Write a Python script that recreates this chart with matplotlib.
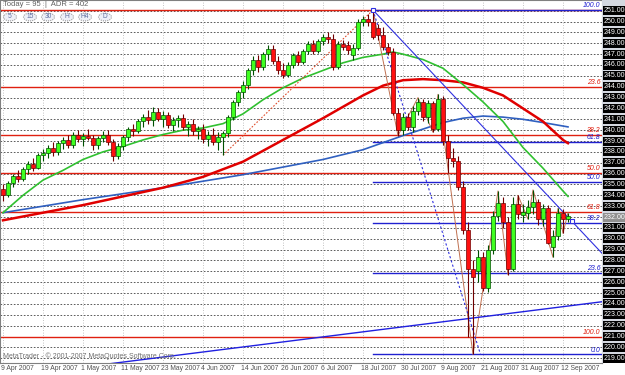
import matplotlib
matplotlib.use("Agg")
import matplotlib.pyplot as plt
from matplotlib.patches import Rectangle, Circle

# ---------------- data (GBPJPY daily, 9 Apr 2007 .. 13 Sep 2007) ----------------
opens = [234.6,234.0,235.1,235.8,235.5,236.4,236.9,236.5,237.7,237.9,238.4,238.0,238.8,239.1,238.6,239.6,
         239.2,239.5,239.3,238.6,239.3,239.6,238.9,237.6,238.5,239.4,240.1,239.9,240.8,241.2,240.9,241.7,
         241.0,241.4,240.5,240.9,241.1,240.3,240.6,239.9,240.1,239.2,239.6,238.9,239.4,239.7,241.2,242.6,
         243.5,244.2,245.5,246.5,245.8,247.0,247.5,246.4,245.5,245.1,246.0,246.9,246.3,247.3,247.9,247.3,
         248.2,248.6,248.4,245.8,247.9,247.8,246.9,247.6,250.0,250.2,250.0,249.4,248.8,247.7,247.2,241.6,
         240.0,241.2,240.3,241.8,242.6,241.2,242.5,240.1,242.9,239.0,237.4,237.2,234.8,230.8,227.2,227.0,
         228.3,225.5,229.0,232.1,233.3,231.5,227.2,233.2,232.2,232.4,232.9,233.4,231.8,232.8,229.2,230.3,
         232.4,231.8]
highs = [235.0,235.3,236.0,236.3,236.6,237.2,237.4,237.9,238.3,238.6,238.9,239.0,239.4,239.6,239.8,240.0,
         239.7,240.1,239.6,239.5,239.9,240.0,239.2,238.8,239.6,240.3,240.6,241.0,241.5,241.9,242.1,242.0,
         241.8,241.7,241.2,241.4,241.5,240.8,241.0,240.4,240.6,239.9,240.2,239.8,239.9,241.4,242.8,243.7,
         244.5,245.7,246.8,246.9,247.2,247.85,247.8,246.8,246.2,246.3,247.1,247.3,247.5,248.2,248.3,248.4,
         248.9,249.0,248.9,248.2,248.3,248.2,247.9,250.2,250.5,250.7,251.06,249.8,249.5,248.0,247.6,242.0,
         241.6,241.6,242.2,243.0,242.9,242.8,242.7,243.3,243.1,239.6,238.4,237.6,235.3,231.5,228.0,229.0,
         228.8,229.4,232.6,234.4,233.8,232.0,233.8,234.0,233.2,233.6,234.5,233.7,233.2,233.1,230.8,232.8,
         232.7,232.4]
lows  = [233.5,233.8,234.8,235.2,235.3,236.0,236.2,236.4,237.2,237.4,237.6,237.7,238.3,238.4,238.4,238.9,
         238.5,239.1,238.2,238.3,238.9,238.6,237.2,237.3,238.2,239.0,239.5,239.7,240.3,240.6,240.4,240.8,
         240.3,240.2,239.9,240.3,240.0,239.5,239.6,239.2,238.8,238.5,238.6,238.2,237.7,239.4,240.9,242.2,
         243.0,243.8,245.1,245.4,245.5,246.5,246.1,245.2,244.8,244.9,245.7,246.0,246.1,247.0,247.0,247.1,
         247.8,248.0,245.5,245.6,247.4,247.0,246.5,247.4,249.6,249.6,248.4,248.3,247.4,246.9,241.4,239.5,
         239.6,240.0,239.8,241.4,240.8,240.7,239.8,239.9,238.6,236.1,236.6,234.5,230.4,221.0,219.35,226.0,
         225.2,225.1,228.6,231.6,231.0,226.7,227.0,231.8,231.5,231.8,232.3,231.3,231.2,229.5,228.3,229.9,
         230.5,231.5]
closes = [234.0,235.1,235.8,235.5,236.4,236.9,236.5,237.7,237.9,238.4,238.0,238.8,239.1,238.6,239.6,239.2,
          239.5,239.3,238.6,239.3,239.6,238.9,237.6,238.5,239.4,240.1,239.9,240.8,241.2,240.9,241.7,241.0,
          241.4,240.5,240.9,241.1,240.3,240.6,239.9,240.1,239.2,239.6,238.9,239.4,239.7,241.2,242.6,243.5,
          244.2,245.5,246.5,245.8,247.0,247.5,246.4,245.5,245.1,246.0,246.9,246.3,247.3,247.9,247.3,248.2,
          248.6,248.4,245.8,247.9,247.7,247.4,247.6,250.0,250.2,250.0,248.6,248.8,247.7,247.2,241.6,240.0,
          241.2,240.3,241.8,242.6,241.2,242.5,240.1,242.9,239.0,237.4,237.2,234.8,230.8,227.2,226.5,228.3,
          225.5,229.0,232.1,233.3,231.5,227.2,233.2,232.3,232.5,232.9,233.4,231.8,232.8,229.6,230.3,232.4,
          231.8,232.1]

tick_idx = [0, 8, 16, 24, 32, 40, 48, 56, 64, 72, 80, 88, 96, 104, 112]
tick_labels = ["9 Apr 2007", "19 Apr 2007", "1 May 2007", "11 May 2007", "23 May 2007", "4 Jun 2007",
               "14 Jun 2007", "26 Jun 2007", "6 Jul 2007", "18 Jul 2007", "30 Jul 2007", "9 Aug 2007",
               "21 Aug 2007", "31 Aug 2007", "12 Sep 2007"]

ma_idx   = [0, 4, 8, 12, 16, 20, 24, 28, 32, 36, 40, 44, 48, 52, 56, 60, 64, 68, 72, 76, 78, 80, 84, 88,
            92, 96, 100, 104, 108, 112, 113]
ma_green = [232.4,234.0,235.4,236.3,237.3,238.0,238.5,239.1,239.6,240.0,240.2,240.6,241.5,242.8,243.9,
            244.8,245.5,246.2,246.7,247.0,247.2,247.0,246.5,245.7,244.2,242.6,240.8,238.4,236.5,234.4,233.9]
ma_red_idx = [0, 8, 16, 24, 32, 40, 48, 56, 64, 72, 76, 80, 84, 88, 92, 96, 100, 104, 108, 112, 113]
ma_red   = [231.7,232.4,233.1,233.9,234.7,235.7,237.1,239.1,241.1,243.2,244.1,244.6,244.7,244.6,244.4,
            243.9,243.2,242.0,240.8,239.1,238.8]
ma_blue_idx = [0, 16, 32, 48, 64, 72, 80, 88, 92, 96, 100, 104, 108, 113]
ma_blue  = [232.4,233.6,234.7,235.9,237.3,238.2,239.5,240.7,241.1,241.3,241.2,241.0,240.7,240.3]

zz_idx   = [74, 79, 83, 86, 87, 94, 99, 101, 103, 105, 106, 110, 111, 112, 113]
zz_price = [251.06, 239.5, 243.0, 239.8, 243.3, 219.35, 234.4, 226.7, 234.0, 231.8, 234.5, 228.3, 232.8,
            230.5, 232.4]
zz_pre_idx = [44, 74]
zz_pre_price = [237.7, 251.06]

fib_levels = [0.0, 23.6, 38.2, 50.0, 61.8, 100.0]
fib_high = 251.06
red_fib_low = 221.0
blue_fib_low = 219.35
price_labels = list(range(219, 252))
current_price = 232.0

NARROW = ["Liberation Sans Narrow", "Liberation Sans", "DejaVu Sans"]

# ---------------- geometry helpers ----------------
W, H = 625, 375
PX_PER_UNIT = 10.86
def ypix(p):  # pixel from top
    return 10.7 + (251 - p) * PX_PER_UNIT

fig = plt.figure(figsize=(W / 100, H / 100), dpi=100)
fig.patch.set_facecolor("white")
ax_bottom_px = 363
ax = fig.add_axes([0, (H - ax_bottom_px) / H, 602 / W, ax_bottom_px / H])
ax.set_facecolor("white")
ax.set_xlim(-0.6, 119.8)
ax.set_ylim(251 - (ax_bottom_px - 10.7) / PX_PER_UNIT, 251 + 10.7 / PX_PER_UNIT)
ax.set_xticks([])
ax.set_yticks([])
for s in ax.spines.values():
    s.set_color("#808080")
    s.set_linewidth(0.8)

# grid
for p in price_labels:
    ax.axhline(p, color="#404040", lw=0.6, ls=(0, (2, 2)), zorder=1)
for t in tick_idx:
    ax.axvline(t, color="#b0b0b0", lw=0.6, ls=(0, (1, 2)), zorder=1)

# fib retracements
red_rng = fib_high - red_fib_low
for lv in fib_levels:
    p = fib_high - red_rng * lv / 100.0
    ax.axhline(p, color="#e02010", lw=1.0, zorder=2)
    if lv > 0:
        ax.text(119.5, p + 0.08, f"{lv:.1f}", color="#e02010", fontsize=5, style="italic",
                family=NARROW, ha="right", va="bottom", zorder=6)
blue_rng = fib_high - blue_fib_low
for lv in fib_levels:
    p = blue_fib_low + blue_rng * lv / 100.0
    ax.plot([74, 119.8], [p, p], color="#2020d0", lw=1.0, zorder=2)
    ax.text(119.5, p + 0.08, f"{lv:.1f}", color="#2020d0", fontsize=5, style="italic",
            family=NARROW, ha="right", va="bottom", zorder=6)

# moving averages
ax.plot(ma_blue_idx, ma_blue, color="#3060c0", lw=1.2, zorder=3)
ax.plot(ma_red_idx, ma_red, color="#e00000", lw=1.8, zorder=3)
ax.plot(ma_idx, ma_green, color="#30c030", lw=1.2, zorder=3)

# zigzag
ax.plot(zz_pre_idx, zz_pre_price, color="#e05030", lw=0.8, ls=(0, (1.5, 1.5)), zorder=3)
ax.plot(zz_idx, zz_price, color="#c07050", lw=0.7, zorder=3)

# trend lines
ax.plot([21.5, 119.8], [218.5, 224.2], color="#2020e0", lw=1.0, zorder=3)
ax.plot([74, 119.8], [fib_high, fib_high - 0.489 * 45.8], color="#3030e0", lw=0.8, zorder=3)
ax.plot([74, 95.5], [fib_high, blue_fib_low], color="#3030e0", lw=0.8, ls=(0, (2, 2)), zorder=3)
ax.plot([74], [fib_high], marker="s", ms=3, mfc="white", mec="#3030e0", mew=0.8, zorder=7)
ax.plot([113.8], [fib_high - 0.489 * 39.8], marker="s", ms=3, mfc="white", mec="#3030e0", mew=0.8, zorder=7)

# candles
for i, (o, h, l, c) in enumerate(zip(opens, highs, lows, closes)):
    bull = c >= o
    edge = "#005000" if bull else "#700000"
    face = "#40ff20" if bull else "#ff1010"
    ax.vlines(i, l, h, color=edge, lw=0.8, zorder=4)
    ax.add_patch(Rectangle((i - 0.32, min(o, c)), 0.64, max(abs(c - o), 0.06),
                           facecolor=face, edgecolor=edge, lw=0.5, zorder=5))

# ---------------- text elements ----------------
def fy(ypx):
    return 1 - ypx / H

fig.patches.append(Rectangle((602 / W, fy(363)), 23 / W, 363 / H, transform=fig.transFigure,
                             facecolor="#d4d8e0", edgecolor="none", zorder=0))

fig.text(3 / W, fy(5), "Today = 95  |  ADR = 402", fontsize=5.5, family=NARROW, color="#606060",
         va="center", ha="left")
for xb, lab in zip([10, 30, 48, 67, 85, 105], ["5", "15", "30", "H", "H4", "D"]):
    fig.patches.append(Circle((xb / W, fy(17)), 6.5 / W, transform=fig.transFigure,
                              facecolor="#eef0f8", edgecolor="#a0a0a0", lw=0.8, ls=(0, (1, 1)), zorder=8))
    fig.text(xb / W, fy(17), lab, fontsize=4.8, family=NARROW, color="#6070a0",
             ha="center", va="center", zorder=9)

fig.text(3 / W, fy(356), "MetaTrader - \u00a9 2001-2007 MetaQuotes Software Corp.", fontsize=5,
         family=NARROW, color="#707070", va="center", ha="left")

# date labels
for t, lab in zip(tick_idx, tick_labels):
    xpx = 3 + 5 * t
    fig.text((xpx - 2) / W, fy(369), lab, fontsize=4.9, family=NARROW, color="#505050",
             ha="left", va="center")

# price labels
for p in price_labels:
    y = ypix(p)
    grey = abs(p - current_price) < 0.01
    fig.patches.append(Rectangle((603 / W, fy(y + 4.5)), 22 / W, 9 / H, transform=fig.transFigure,
                                 facecolor="#909090" if grey else "black", edgecolor="none", zorder=8))
    fig.text(614 / W, fy(y), f"{p:.2f}", fontsize=5, family=NARROW, color="white",
             ha="center", va="center", zorder=9)

fig.savefig("out.png", dpi=100)
